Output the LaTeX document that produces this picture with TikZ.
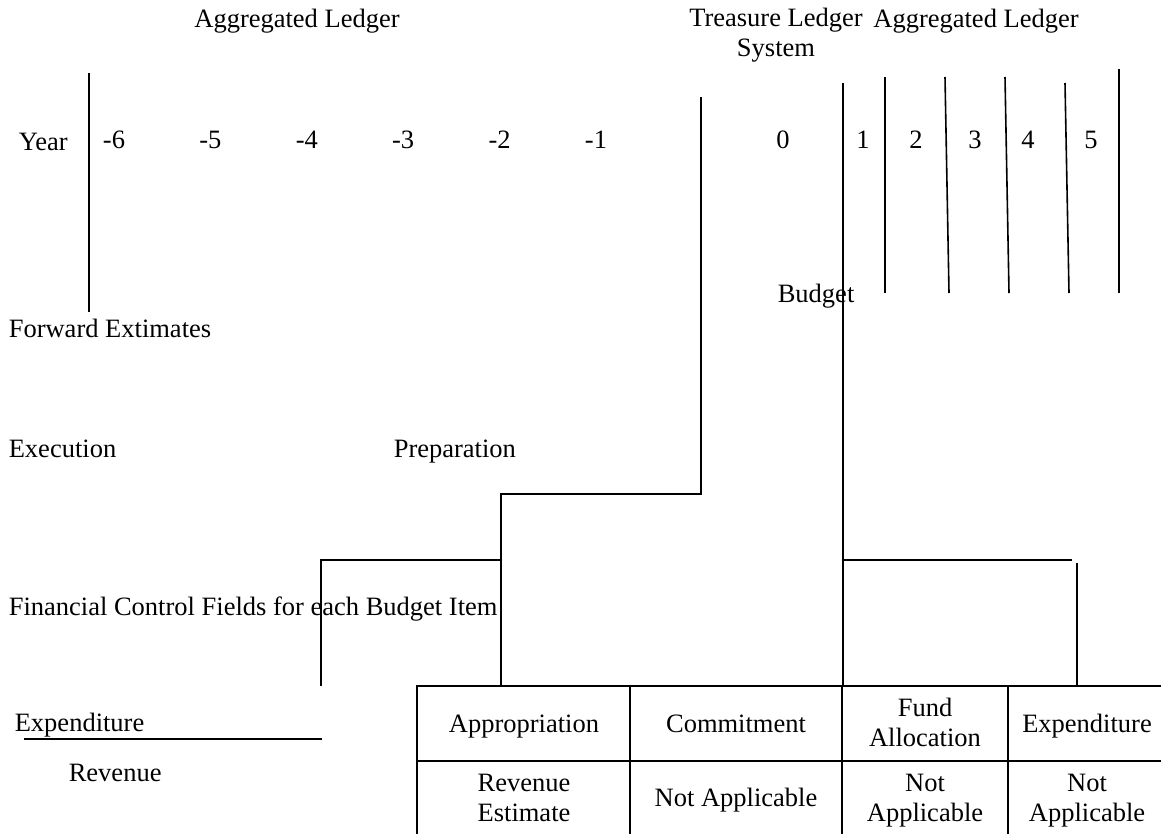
\documentclass[tikz,border=0pt]{standalone}
\usepackage{fontspec}
\setmainfont{Liberation Serif}
\begin{document}
\begin{tikzpicture}[x=1pt,y=-1pt,line width=1.6pt,
  every node/.style={font=\fontsize{26.5}{30}\selectfont,inner sep=0pt},
  lbl/.style={anchor=base west},
  yr/.style={anchor=base},
  cell/.style={align=center,text depth=0pt,anchor=south}]

  \useasboundingbox (0,0) rectangle (1161,833);

  %headings
  \node[yr] (aggleft) at (297,27) {Aggregated Ledger};
  \node[cell] (treasury) at (776,57) {Treasure Ledger\\System};
  \node[yr] (aggright) at (976,27) {Aggregated Ledger};

  %year row
  \node[lbl] (year) at (18,150) {Year};
  \foreach \n [count=\i from 0] in {-6,-5,-4,-3,-2,-1}
    \node[yr] (past\i) at ({114+96.4*\i},148) {\n};
  \foreach \x/\n in {783/0,863/1,916/2,975/3,1028/4,1091/5}
    \node[yr] (fut\n) at (\x,148) {\n};

  %left labels
  \node[lbl] (fwd) at (8,337) {Forward Extimates};
  \node[lbl] (budget) at (777,302) {Budget};
  \node[lbl] (exec) at (8,457) {Execution};
  \node[lbl] (prep) at (393,457) {Preparation};
  \node[lbl] (fields) at (8,615) {Financial Control Fields for each Budget Item};
  \node[lbl] (expleft) at (14,731) {Expenditure};
  \node[lbl] (revleft) at (68,781) {Revenue};

  %year dividers
  \draw (89,73) -- (89,312);
  \draw (885,77) -- (885,293);
  \draw (945,77) -- (949,293);
  \draw (1005,77) -- (1009,293);
  \draw (1065,83) -- (1069,293);
  \draw (1119,69) -- (1119,293);

  %branches
  \draw (701,97) -- (701,494) -- (501,494) -- (501,686);
  \draw (321,686) -- (321,560) -- (501,560);
  \draw (843,83) -- (843,686);
  \draw (843,560) -- (1072,560);
  \draw (1077,563) -- (1077,686);
  \draw (24,739) -- (322,739);

  %table
  \draw (417,834) -- (417,686) -- (1162,686);
  \draw (417,761) -- (1162,761);
  \foreach \x in {630,842,1008}
    \draw (\x,686) -- (\x,834);

  \node[cell] (approp) at (524,733) {Appropriation};
  \node[cell] (commit) at (736,733) {Commitment};
  \node[cell] (fund) at (925,747) {Fund\\Allocation};
  \node[cell] (expend) at (1087,733) {Expenditure};
  \node[cell] (revest) at (524,822) {Revenue\\Estimate};
  \node[cell] (nacommit) at (736,807) {Not Applicable};
  \node[cell] (nafund) at (925,822) {Not\\Applicable};
  \node[cell] (naexpend) at (1087,822) {Not\\Applicable};
\end{tikzpicture}
\end{document}
